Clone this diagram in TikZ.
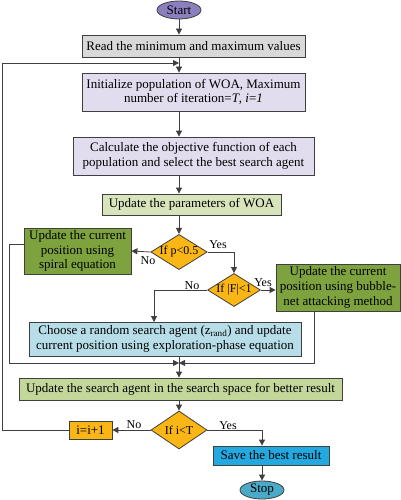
\documentclass[tikz,border=0pt]{standalone}
\usepackage{fontspec}
\setmainfont{Liberation Serif}
\usepackage{tikz}
\usetikzlibrary{calc}
\usetikzlibrary{shapes}
\usetikzlibrary{arrows.meta}
\definecolor{edgegray}{HTML}{3F3F3F}
\definecolor{startpurple}{HTML}{8C7FBE}
\definecolor{stopteal}{HTML}{4BAAC8}
\definecolor{readgray}{HTML}{D9D9D9}
\definecolor{lavender}{HTML}{E2DDEE}
\definecolor{palegreen}{HTML}{D8E4BC}
\definecolor{oliveg}{HTML}{C4D79B}
\definecolor{leafgreen}{HTML}{7EA23E}
\definecolor{skyblue}{HTML}{B7DEE8}
\definecolor{saveblue}{HTML}{23A8E0}
\definecolor{amber}{HTML}{F9B614}
\tikzset{
  base/.style={draw=edgegray, line width=0.8pt, align=center, inner sep=1pt,
    font=\fontsize{13}{14.7}\selectfont},
  term/.style={base, ellipse, inner sep=0pt, minimum width=44pt, minimum height=18pt},
  proc/.style={base, rectangle},
  cond/.style={base, diamond, fill=amber, inner sep=0pt, aspect=1.6,
    font=\fontsize{12}{13}\selectfont},
  lbl/.style={font=\fontsize{12}{13}\selectfont, inner sep=0pt},
  flow/.style={draw=edgegray, line width=0.8pt, -{Triangle[length=6pt,width=6pt]}},
  wire/.style={draw=edgegray, line width=0.8pt}
}
\newcommand{\answer}[4]{\node[lbl] (#1) at ( #2 , #3 ) {#4};}
\begin{document}
\begin{tikzpicture}[x=1pt,y=-1pt]
        \useasboundingbox (0,0) rectangle (401,500);
        % top part
        \node[term, fill=startpurple] (start) at (179,10) {Start};
        \node[proc, fill=readgray, minimum width=223pt, minimum height=22pt] (read) at (193.5,46) {Read the minimum and maximum values};
        \node[proc, fill=lavender, minimum width=223pt, minimum height=38pt] (init) at (193.5,92) {Initialize population of WOA, Maximum\\number of iteration=\textit{T}, \textit{i}=\textit{1}};
        \node[proc, fill=lavender, minimum width=241pt, minimum height=38pt] (calc) at (193.5,156) {Calculate the objective function of each\\population and select the best search agent};
        \node[proc, fill=palegreen, minimum width=179pt, minimum height=21pt] (param) at (191.5,204.5) {Update the parameters of WOA};

        % decisions
        \node[cond, minimum width=50pt, minimum height=33pt] (dp) at (179,252) {If p<0.5};
        \node[proc, fill=leafgreen, minimum width=107pt, minimum height=46pt] (spiral) at (77.5,251) {Update the current\\position using\\spiral equation};
        \node[cond, minimum width=49pt, minimum height=33pt] (df) at (234,290) {If |F|<1};
        \node[proc, fill=leafgreen, minimum width=124pt, minimum height=47pt] (bubble) at (338,287.5) {Update the current\\position using bubble-\\net attacking method};
        \node[proc, fill=skyblue, minimum width=272pt, minimum height=34pt] (choose) at (165,339) {Choose a random search agent (z\textsubscript{rand}) and update\\current position using exploration-phase equation};

        % bottom part
        \node[proc, fill=oliveg, minimum width=323pt, minimum height=22pt] (update) at (180.5,389) {Update the search agent in the search space for better result};
        \node[cond, minimum width=56pt, minimum height=38pt] (dt) at (179,430) {If i<T};
        \node[proc, fill=amber, minimum width=43pt, minimum height=18pt] (inc) at (90.5,430) {i=i+1};
        \node[proc, fill=saveblue, minimum width=116pt, minimum height=19pt] (save) at (271,455.5) {Save the best result};
        \node[term, fill=stopteal] (stop) at (262,490) {Stop};

        % joints
        \coordinate (j1) at (179,63);
        \coordinate (j2) at (179,363);
        \coordinate (lft) at (2,430);
        \coordinate (cn) at (154,322);
        \coordinate (bs) at (314,311);

        % arrows
        \draw[flow] (start) -- (start |- read.north);
        \draw[flow] (start |- read.south) -- (start |- init.north);
        \draw[flow] (start |- init.south) -- (start |- calc.north);
        \draw[flow] (start |- calc.south) -- (start |- param.north);
        \draw[flow] (start |- param.south) -- (dp.north);
        \draw[flow] (dp.west) -- (spiral.east);
        \draw[flow] (dp.east) -| (df.north);
        \draw[flow] (df.east) -- (df.east -| bubble.west);
        \draw[flow] (df.west) -| (cn);
        \draw[flow] ($(spiral.west)+(0,-7)$) -- ++(-14,0) |- (j2);
        \draw[flow] (bs) |- (j2);
        \draw[flow] (choose.south -| j2) -- (update.north -| j2);
        \draw[flow] (update.south -| dt) -- (dt.north);
        \draw[flow] (dt.west) -- (inc.east);
        \draw[flow] (inc.west) -- (lft) |- (j1);
        \draw[flow] (dt.east) -| (save.north -| stop);
        \draw[flow] (save.south -| stop) -- (stop.north);

        % yes / no
        \answer{y1}{218}{245}{Yes}
        \answer{n1}{148}{261}{No}
        \answer{y2}{263}{283}{Yes}
        \answer{n2}{192}{286}{No}
        \answer{n3}{134}{425}{No}
        \answer{y3}{228}{426}{Yes}
\end{tikzpicture}
\end{document}
